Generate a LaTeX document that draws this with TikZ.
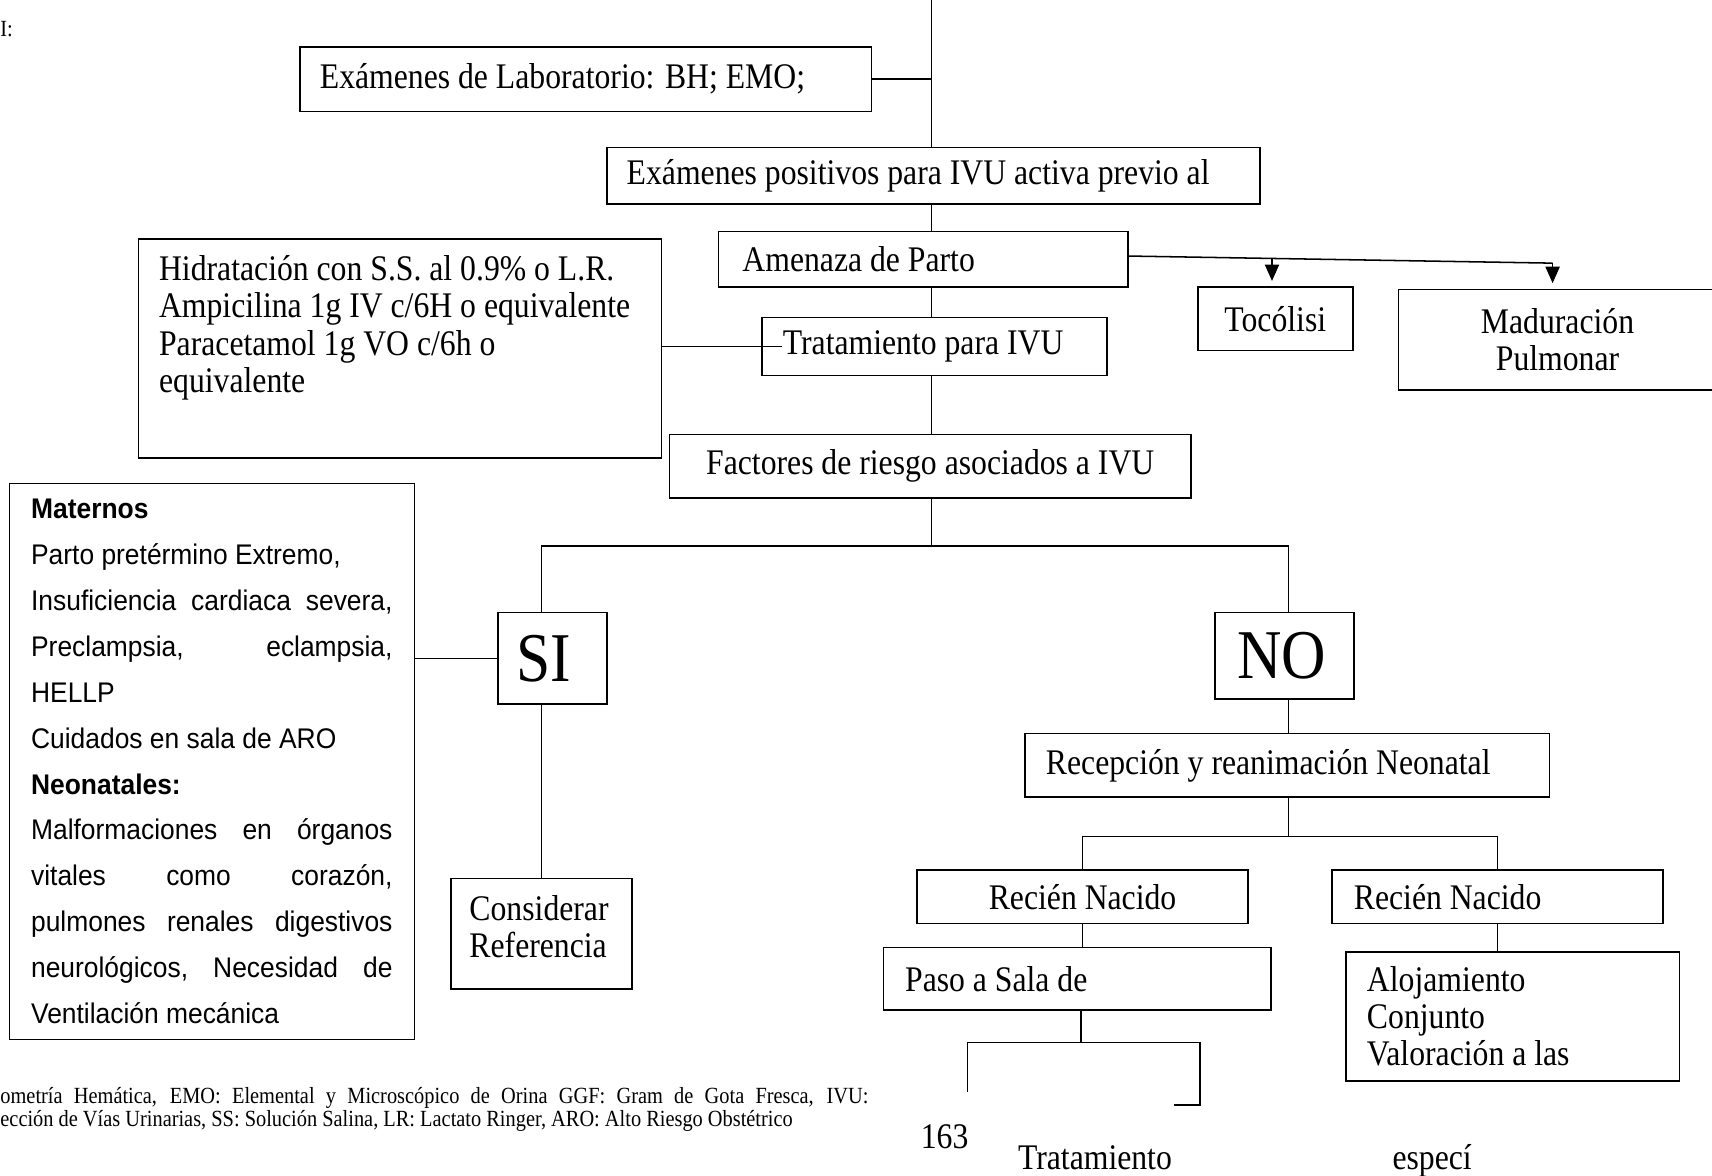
\documentclass[tikz,border=0pt]{standalone}
\usepackage{fontspec}
\setmainfont{Liberation Serif}[FakeStretch=0.88]
\newfontfamily\arialfont{Liberation Sans}[FakeStretch=0.93]
\usetikzlibrary{arrows.meta,positioning}

\begin{document}
\begin{tikzpicture} [
	x = 0.5pt, y = -0.5pt,
	every node/.style = {inner sep=0pt, font=\fontsize{16.5}{17}\selectfont,
		execute at begin node={\spaceskip=0pt\xspaceskip=0pt\relax}},
	box/.style = {draw, line width=0.7pt, inner xsep=9.5pt, align=left},
	cbox/.style = {draw, line width=0.7pt, align=center},
	big/.style = {box, font=\fontsize{32}{32}\selectfont},
	note/.style = {font=\fontsize{10.6}{10.5}\selectfont},
	link/.style = {line width=0.7pt},
	tip/.style = {line width=0.7pt, -{Triangle[width=6.5pt,length=7.5pt]}, shorten >=2.5pt}
]
\useasboundingbox (0,0) rectangle (1568,1077);
\node [note, anchor=west] (mark) at (0,27) {I:};
\node [box, text width=243.5pt, inner xsep=9pt, minimum height=29.5pt] (lab) at (536.5,72.5) {Exámenes de Laboratorio: BH; EMO;};
\node [box, text width=281pt, inner xsep=9pt, minimum height=26pt] (pos) at (855,161) {Exámenes positivos para IVU activa previo al};
\node [box, text width=165.5pt, inner xsep=11pt, minimum height=25.5pt] (amen) at (845.5,237.5) {Amenaza de Parto};
\node [cbox, minimum width=71pt, minimum height=29pt] (toco) at (1168,292) {Tocólisi};
\node [cbox, minimum width=145.5pt, minimum height=46pt] (madu) at (1426.5,311) {Maduración\\Pulmonar};
\node [box, anchor=north west, text width=220.5pt, text height=19.25pt, text depth=81.25pt] (hidr) at (126,218) {Hidratación con S.S. al 0.9\% o L.R.\\Ampicilina 1g IV c/6H o equivalente\\Paracetamol 1g VO c/6h o\\equivalente};
\node [box, text width=139pt, minimum height=26.5pt] (trat) at (856,317.5) {Tratamiento para IVU};
\node [cbox, minimum width=239pt, minimum height=29pt] (fact) at (852,427) {Factores de riesgo asociados a IVU};
\node [box, text width=165.5pt, inner xsep=10pt, minimum height=254.5pt, font=\arialfont\fontsize{13}{21}\selectfont] (mat) at (194,697.5) {\textbf{Maternos}\\
	Parto pretérmino Extremo,\\
	Insuficiencia\hfill cardiaca\hfill severa,\\
	Preclampsia,\hfill eclampsia,\\
	HELLP\\
	Cuidados en sala de ARO\\
	\textbf{Neonatales:}\\
	Malformaciones\hfill en\hfill órganos\\
	vitales\hfill como\hfill corazón,\\
	pulmones\hfill renales\hfill digestivos\\
	neurológicos,\hfill Necesidad\hfill de\\
	Ventilación mecánica};
\node [big, text width=33pt, inner xsep=8.5pt, minimum height=42pt] (si) at (506,603) {SI};
\node [big, text width=43.5pt, inner xsep=10pt, minimum height=39.5pt] (no) at (1176.5,600.5) {NO};
\node [box, anchor=north, text width=66pt, inner xsep=8.5pt, text height=19.25pt, text depth=31.25pt] (cons) at (496,804) {Considerar\\Referencia};
\node [box, text width=221pt, minimum height=29pt] (recep) at (1179,701) {Recepción y reanimación Neonatal};
\node [cbox, minimum width=151.5pt, minimum height=24.5pt] (rn1) at (991.5,821.5) {Recién Nacido};
\node [box, text width=131.5pt, inner xsep=10pt, minimum height=24.5pt] (rn2) at (1371.5,821.5) {Recién Nacido};
\node [box, text width=157.5pt, inner xsep=10pt, minimum height=28.5pt] (paso) at (986.5,896.5) {Paso a Sala de};
\node [box, text width=133.5pt, minimum height=59pt] (aloj) at (1385.5,931) {Alojamiento\\Conjunto\\Valoración a las};
\node [note, anchor=base west, text width=397.5pt, align=left] (foot) at (0,1011) {\makebox[\linewidth][s]{ometría Hemática, EMO: Elemental y Microscópico de Orina GGF: Gram de Gota Fresca, IVU:}\\ección de Vías Urinarias, SS: Solución Salina, LR: Lactato Ringer, ARO: Alto Riesgo Obstétrico};
\node [anchor=base west] (page) at (843,1052) {163};
\node [anchor=base west] (tail) at (932,1071) {Tratamiento};
\node [anchor=base west] (tailb) at (1275,1071) {especí};

\coordinate (spine) at (853,0);
\coordinate (split) at (853,500);
\coordinate (lsplit) at (496,500);
\coordinate (rsplit) at (1180,500);
\coordinate (nsplit) at (1180,766);
\coordinate (psplit) at (990,955);
\coordinate (pcorner) at (1099,955);
\coordinate (pleft) at (886,1000);
\coordinate (pright) at (1075,1012);
\coordinate (tocoarrow) at (1165,236.7);
\coordinate (maduarrow) at (1422,241);

\draw [link] (spine) -- (spine |- pos.north);
\draw [link] (lab.east) -- (lab.east -| spine);
\draw [link] (spine |- pos.south) -- (spine |- amen.north);
\draw [link] (spine |- amen.south) -- (spine |- trat.north);
\draw [link] (spine |- trat.south) -- (spine |- fact.north);
\draw [link] (spine |- fact.south) -- (split);
\draw [link] ([yshift=1.5pt]amen.east) -- (maduarrow);
\draw [tip] (tocoarrow) -- (tocoarrow |- toco.north);
\draw [tip] (maduarrow) -- (maduarrow |- madu.north);
\draw [link] (trat.west -| hidr.east) -- ([xshift=9.5pt]trat.west);
\draw [link] (lsplit |- si.north) -- (lsplit) -- (rsplit) -- (rsplit |- no.north);
\draw [link] (si.west) -- (si.west -| mat.east);
\draw [link] (lsplit |- si.south) -- (cons.north);
\draw [link] (rsplit |- no.south) -- (rsplit |- recep.north);
\draw [link] (rsplit |- recep.south) -- (nsplit);
\draw [link] (rn1.north) -- (rn1.north |- nsplit) -- (rn2.north |- nsplit) -- (rn2.north);
\draw [link] (rn1.south) -- (rn1.south |- paso.north);
\draw [link] (rn2.south) -- (rn2.south |- aloj.north);
\draw [link] (psplit |- paso.south) -- (psplit);
\draw [link] (pleft) |- (pcorner) |- (pright);
\end{tikzpicture}
\end{document}
